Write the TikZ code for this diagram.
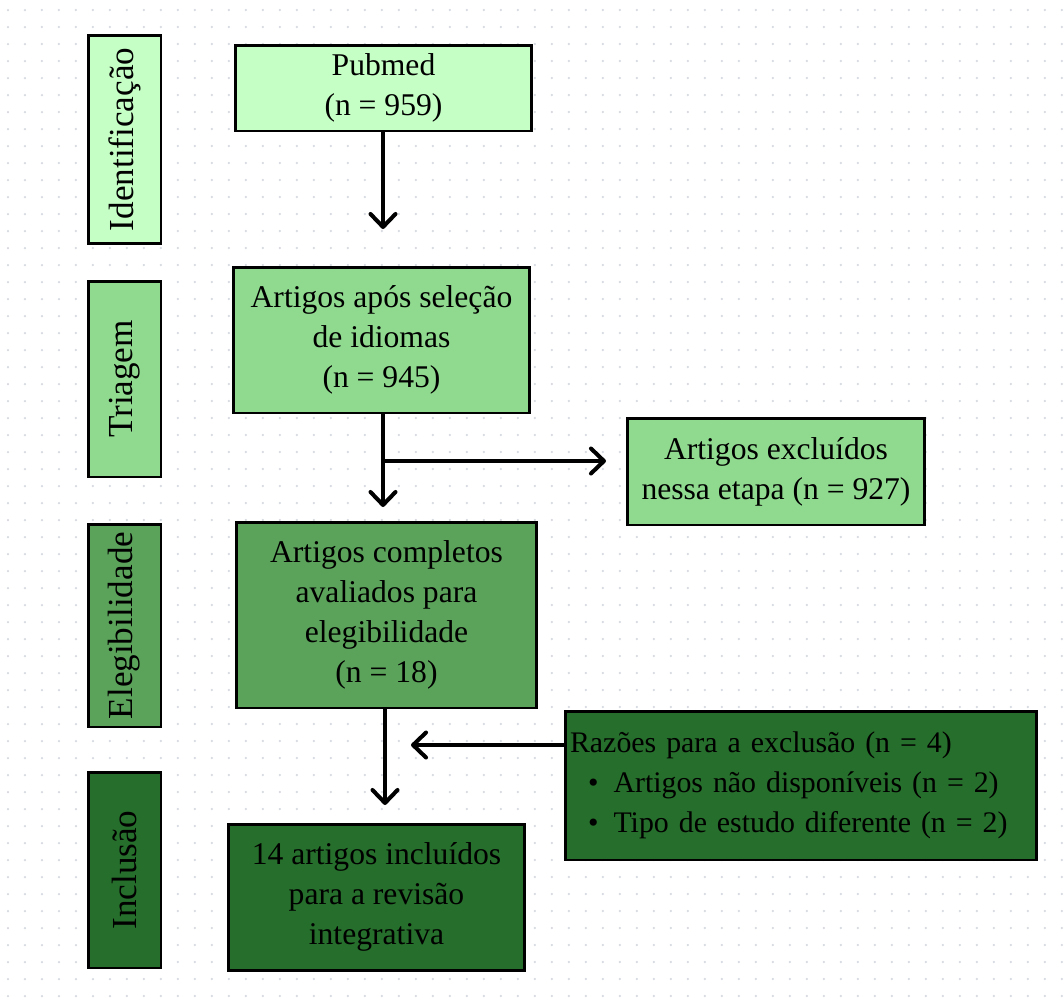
\documentclass[tikz,border=0pt]{standalone}
\usepackage{fontspec}
\setmainfont{Liberation Serif}
\usepackage{xcolor}
\usetikzlibrary{arrows.meta}

\definecolor{verdeA}{RGB}{198,255,198}
\definecolor{verdeB}{RGB}{144,218,144}
\definecolor{verdeC}{RGB}{91,163,91}
\definecolor{verdeD}{RGB}{38,110,43}
\definecolor{ponto}{RGB}{214,217,224}

\begin{document}
\begin{tikzpicture}[x=0.02cm, y=-0.02cm]
	\tikzstyle{block}=[draw, line width = 1.7pt, black, align=center, inner sep=2pt,
	                   font=\fontsize{18}{22.8}\selectfont, text=black]
	\tikzstyle{phase}=[block, rotate=90, minimum height=1.46cm, font=\fontsize{20}{24}\selectfont]
	\tikzstyle{link}=[draw, line width = 2.3pt, black, line join=round,
	                  -{Straight Barb[length=2.6mm, width=5mm, round]}]
	% fundo pontilhado
	\fill[white] (0,0) rectangle (1064,1005);
	\useasboundingbox (0,0) rectangle (1064,1005);
	\foreach \y in {10,27,...,1005}
	    \draw[ponto, line width=0.05cm, line cap=round, dash pattern=on 0pt off 0.34cm] (8,\y) -- (1064,\y);
	% fases
	\node[phase, fill=verdeA, minimum width=4.18cm] (ident) at (124.5,139.5) {Identificação};
	\node[phase, fill=verdeB, minimum width=3.92cm] (triagem) at (124.5,379) {Triagem};
	\node[phase, fill=verdeC, minimum width=4.06cm] (eleg) at (124.5,625.5) {Elegibilidade};
	\node[phase, fill=verdeD, minimum width=3.92cm] (inclusao) at (124.5,870) {Inclusão};
	% caixas
	\node[block, fill=verdeA, minimum width=5.94cm, minimum height=1.72cm] (pubmed) at (383.5,88) {Pubmed\\(n = 959)};
	\node[block, fill=verdeB, minimum width=5.94cm, minimum height=2.92cm] (apos) at (381.5,340) {Artigos após seleção\\de idiomas\\(n = 945)};
	\node[block, fill=verdeB, minimum width=5.96cm, minimum height=2.14cm] (excl) at (776,471.5) {Artigos excluídos\\nessa etapa (n = 927)};
	\node[block, fill=verdeC, minimum width=6.02cm, minimum height=3.72cm] (completos) at (386.5,615) {Artigos completos\\avaliados para\\elegibilidade\\(n = 18)};
	\node[block, fill=verdeD, minimum width=9.44cm, minimum height=2.98cm, align=left, text width=9.24cm,
	      font=\fontsize{17}{22.8}\selectfont] (razoes) at (801,785.5)
	      {Razões para a exclusão (n = 4)\\\hspace*{0.36cm}\textbullet\hspace{0.3cm}Artigos não disponíveis (n = 2)\\\hspace*{0.36cm}\textbullet\hspace{0.3cm}Tipo de estudo diferente (n = 2)};
	\node[block, fill=verdeD, minimum width=5.94cm, minimum height=2.92cm] (final) at (376.5,897) {14 artigos incluídos\\para a revisão\\integrativa};
	% setas
	\coordinate (c1) at (383,229);
	\coordinate (c2) at (383,507);
	\coordinate (c3) at (383,461);
	\coordinate (c4) at (606,461);
	\coordinate (c5) at (385,805);
	\coordinate (c6) at (565,745);
	\coordinate (c7) at (411,745);
	\draw[link] (pubmed.south -| c1) -- (c1);
	\draw[link] (apos.south -| c2) -- (c2);
	\draw[link] (c3) -- (c4);
	\draw[link] (completos.south -| c5) -- (c5);
	\draw[link] (c6) -- (c7);
\end{tikzpicture}
\end{document}
